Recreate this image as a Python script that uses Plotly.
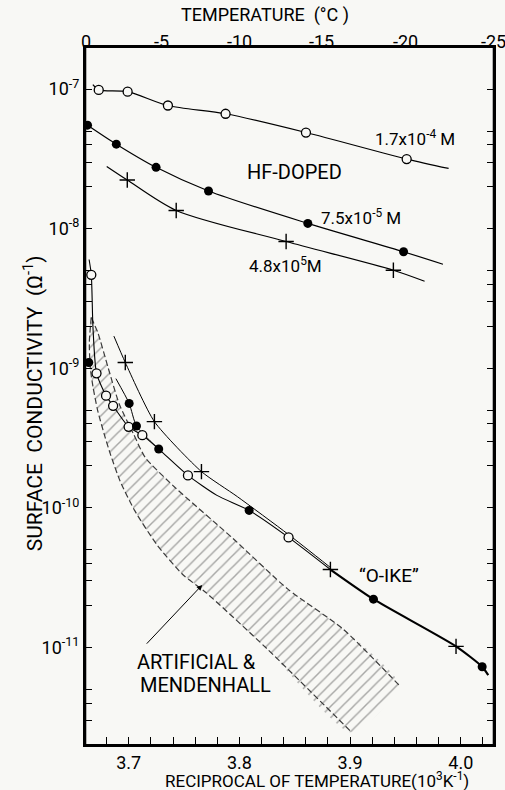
import numpy as np
import plotly.graph_objects as go

# ---------------------------------------------------------------
# Surface conductivity of ice vs reciprocal temperature
# x: 1/T in 10^3 K^-1, y: surface conductivity in ohm^-1
# ---------------------------------------------------------------

# HF-doped ice, 1.7x10^-4 M (open circles)
hf17_x = [3.6729, 3.6990, 3.7354, 3.7875, 3.8601, 3.9511]
hf17_y = [9.86e-8, 9.57e-8, 7.62e-8, 6.65e-8, 4.88e-8, 3.15e-8]
hf17_start = (3.6676, 1.074e-7)
hf17_end = (3.9890, 2.70e-8)

# HF-doped ice, 7.5x10^-5 M (filled circles)
hf75_x = [3.6628, 3.6888, 3.7247, 3.7721, 3.8618, 3.9483]
hf75_y = [5.51e-8, 4.03e-8, 2.75e-8, 1.86e-8, 1.09e-8, 6.83e-9]
hf75_end = (3.9839, 5.56e-9)

# HF-doped ice, 4.8x10^-5 M (crosses)
hf48_x = [3.6987, 3.7429, 3.8422, 3.9391]
hf48_y = [2.23e-8, 1.35e-8, 8.09e-9, 5.04e-9]
hf48_start = (3.6801, 2.79e-8)
hf48_end = (3.9673, 4.20e-9)

# Pure ice ("O-IKE") runs
pure_open_x = [3.6662, 3.6709, 3.6795, 3.6859, 3.6999, 3.7123, 3.7535, 3.8444]
pure_open_y = [4.67e-9, 9.2e-10, 6.37e-10, 5.38e-10, 3.81e-10, 3.32e-10, 1.71e-10, 6.15e-11]
pure_filled_x = [3.6639, 3.7004, 3.7070, 3.7271, 3.8088, 3.9211, 4.0193]
pure_filled_y = [1.10e-9, 5.60e-10, 3.86e-10, 2.64e-10, 9.6e-11, 2.22e-11, 7.29e-12]
pure_cross_x = [3.6969, 3.7232, 3.7657, 3.8822, 3.9957]
pure_cross_y = [1.10e-9, 4.15e-10, 1.82e-10, 3.62e-11, 1.02e-11]

# Hand-drawn curves through the pure-ice runs
curve_a_x = [3.6642, 3.6662, 3.6677, 3.6709, 3.6795, 3.6859, 3.6999, 3.7123,
             3.7271, 3.7535, 3.7797, 3.8088, 3.8444, 3.8822]
curve_a_y = [6.01e-9, 4.67e-9, 1.96e-9, 9.2e-10, 6.37e-10, 5.38e-10, 3.81e-10, 3.32e-10,
             2.64e-10, 1.71e-10, 1.23e-10, 9.6e-11, 6.15e-11, 3.62e-11]
curve_tail_x = [3.8822, 3.9211, 3.9957, 4.0193, 4.0248]
curve_tail_y = [3.62e-11, 2.22e-11, 1.02e-11, 7.29e-12, 6.35e-12]
curve_b_x = [3.6866, 3.6969, 3.7232, 3.7657, 3.7981, 3.8439, 3.8823]
curve_b_y = [1.70e-9, 1.10e-9, 4.15e-10, 1.82e-10, 1.205e-10, 6.49e-11, 3.74e-11]
curve_c_x = [3.6884, 3.7004, 3.7070, 3.7271]
curve_c_y = [8.43e-10, 5.60e-10, 3.86e-10, 2.64e-10]

# Band covering artificial ice and Mendenhall glacier ice
band_upper_x = [3.6661, 3.6721, 3.6814, 3.6916, 3.7046, 3.7150, 3.7423, 3.7942,
                3.8435, 3.8939, 3.9440]
band_upper_y = [2.31e-9, 1.80e-9, 1.01e-9, 5.50e-10, 3.35e-10, 2.29e-10, 1.39e-10,
                6.04e-11, 2.63e-11, 1.35e-11, 5.40e-12]
band_lower_x = [3.6661, 3.6644, 3.6653, 3.6678, 3.6719, 3.6787, 3.6838, 3.6923,
                3.7053, 3.7254, 3.7490, 3.7694, 3.8248, 3.9014]
band_lower_y = [2.31e-9, 1.53e-9, 1.0e-9, 7.31e-10, 5.00e-10, 3.20e-10, 2.38e-10,
                1.55e-10, 9.6e-11, 5.46e-11, 3.32e-11, 2.49e-11, 9.82e-12, 2.47e-12]
band_arrow_head = (3.7664, 2.81e-11)
band_arrow_tail = (3.7150, 1.04e-11)

# Axes
x_range = [3.6605, 4.030]
x_labelled = [3.7, 3.8, 3.9, 4.0]
x_tick_step = 0.02
y_decades = [-11, -10, -9, -8, -7]
y_minor_mantissas = [2, 3, 4, 5]
temps_c = [0, -5, -10, -15, -20, -25]
y_lo, y_hi = -11.698, -6.699

INK = "black"
BG = "#f8f8f5"
FONT = "Roboto"

fig = go.Figure()

# hatched band
fig.add_trace(go.Scatter(
    x=band_lower_x + band_upper_x[::-1], y=band_lower_y + band_upper_y[::-1],
    mode="lines", fill="toself", fillcolor="rgba(0,0,0,0)",
    fillpattern=dict(shape="/", fgcolor="#555555", bgcolor="rgba(0,0,0,0)",
                     size=8, solidity=0.18),
    line=dict(width=0, shape="spline", smoothing=0.6), hoverinfo="skip"))
for bx, by in [(band_upper_x, band_upper_y), (band_lower_x, band_lower_y)]:
    fig.add_trace(go.Scatter(x=bx, y=by, mode="lines",
                             line=dict(color="#3a3a3a", width=1.2, dash="6px,3px",
                                       shape="spline", smoothing=0.6),
                             hoverinfo="skip"))

thin = dict(color=INK, width=1.2, shape="spline", smoothing=0.8)

# fitted curves, HF-doped
fig.add_trace(go.Scatter(x=[hf17_start[0]] + hf17_x + [hf17_end[0]],
                         y=[hf17_start[1]] + hf17_y + [hf17_end[1]],
                         mode="lines", line=thin))
fig.add_trace(go.Scatter(x=hf75_x + [hf75_end[0]], y=hf75_y + [hf75_end[1]],
                         mode="lines", line=thin))
fig.add_trace(go.Scatter(x=[hf48_start[0]] + hf48_x + [hf48_end[0]],
                         y=[hf48_start[1]] + hf48_y + [hf48_end[1]],
                         mode="lines", line=thin))

# curves, pure ice
fig.add_trace(go.Scatter(x=curve_a_x, y=curve_a_y, mode="lines",
                         line=dict(color=INK, width=1.1, shape="spline", smoothing=0.6)))
fig.add_trace(go.Scatter(x=curve_b_x, y=curve_b_y, mode="lines",
                         line=dict(color=INK, width=1.0, shape="spline", smoothing=0.6)))
fig.add_trace(go.Scatter(x=curve_c_x, y=curve_c_y, mode="lines",
                         line=dict(color=INK, width=1.0, shape="spline", smoothing=0.6)))
fig.add_trace(go.Scatter(x=curve_tail_x, y=curve_tail_y, mode="lines",
                         line=dict(color=INK, width=2.2, shape="spline", smoothing=0.6)))

open_m = dict(symbol="circle", size=9, color=BG, line=dict(color=INK, width=1.3))
fill_m = dict(symbol="circle", size=9, color=INK, line=dict(color=INK, width=0))
cross_m = dict(symbol="cross-thin", size=11, line=dict(color=INK, width=1.4))

for xs, ys, m in [(hf17_x, hf17_y, open_m), (hf75_x, hf75_y, fill_m),
                  (hf48_x, hf48_y, cross_m), (pure_open_x, pure_open_y, open_m),
                  (pure_filled_x, pure_filled_y, fill_m),
                  (pure_cross_x, pure_cross_y, cross_m)]:
    fig.add_trace(go.Scatter(x=xs, y=ys, mode="markers", marker=m))

# left and right frame edges, drawn on the data scale
for xe in x_range:
    fig.add_trace(go.Scatter(x=[xe, xe], y=[10 ** y_lo, 10 ** y_hi], mode="lines",
                             line=dict(color=INK, width=2.4), cliponaxis=False,
                             hoverinfo="skip"))

# bottom ticks every 0.02, labelled at each tenth
n_x = int(round((x_range[1] - 3.66) / x_tick_step)) + 1
x_ticks = [round(3.66 + i * x_tick_step, 2) for i in range(n_x)]
x_ticktext = ["%.1f" % v if any(abs(v - l) < 1e-9 for l in x_labelled) else ""
              for v in x_ticks]

# left/right ticks: decades labelled, 2..5 in between unlabelled
y_ticks, y_ticktext = [], []
for d in range(-12, -6):
    if d in y_decades:
        y_ticks.append(10.0 ** d)
        y_ticktext.append("10<sup>%d</sup>" % d)
    for m in y_minor_mantissas:
        y_ticks.append(m * 10.0 ** d)
        y_ticktext.append("")

# decade grid lines
for d in y_decades:
    fig.add_shape(type="line", xref="paper", x0=0, x1=1, yref="y", y0=d, y1=d,
                  line=dict(color="#8a8a8a", width=1), layer="below")

# temperature scale along the top edge
temp_pos = [1000.0 / (273.15 + t) for t in temps_c]
for t, xp in zip(temps_c, temp_pos):
    fig.add_annotation(x=xp, y=1, xref="x", yref="paper", text=str(t),
                       showarrow=False, yanchor="bottom", yshift=-7,
                       font=dict(size=18, color=INK))

# inward tick marks (lengths in axis units: ~8 px vertical, ~7 px horizontal)
tick_line = dict(color=INK, width=1.3)
dy = 8.0 / 139.6
dx = 7.0 * (x_range[1] - x_range[0]) / 411.0
for v in x_ticks:
    if x_range[0] < v < x_range[1]:
        fig.add_shape(type="line", xref="x", yref="y", x0=v, x1=v,
                      y0=y_lo, y1=y_lo + dy, line=tick_line, layer="above")
for xp in temp_pos[1:-1]:
    fig.add_shape(type="line", xref="x", yref="y", x0=xp, x1=xp,
                  y0=y_hi, y1=y_hi - dy, line=tick_line, layer="above")
for v in y_ticks:
    lv = float(np.log10(v))
    if y_lo < lv < y_hi:
        fig.add_shape(type="line", xref="x", yref="y", x0=x_range[0],
                      x1=x_range[0] + dx, y0=lv, y1=lv, line=tick_line, layer="above")
        fig.add_shape(type="line", xref="x", yref="y", x0=x_range[1],
                      x1=x_range[1] - dx, y0=lv, y1=lv, line=tick_line, layer="above")
fig.add_shape(type="rect", xref="paper", yref="paper", x0=0, x1=1, y0=0, y1=1,
              line=dict(color=INK, width=2.2), fillcolor="rgba(0,0,0,0)", layer="above")

axis_line = dict(showline=True, linecolor=INK, linewidth=2, zeroline=False,
                 showgrid=False, ticks="inside", tickwidth=1.3, tickcolor=INK)

fig.update_layout(
    width=505, height=790,
    margin=dict(l=85, r=9, t=47, b=45),
    paper_bgcolor=BG, plot_bgcolor=BG,
    showlegend=False,
    font=dict(family=FONT, size=18, color=INK),
    xaxis=dict(range=x_range, tickmode="array", tickvals=x_ticks,
               ticktext=x_ticktext, ticklen=8, mirror=True, **axis_line),
    yaxis=dict(type="log", range=[y_lo, y_hi], tickmode="array",
               tickvals=y_ticks, ticktext=y_ticktext, ticklen=7, mirror="ticks",
               **axis_line),
)

def label(text, x, y, size=17):
    fig.add_annotation(text=text, x=x, y=y, xref="x", yref="y", showarrow=False,
                       xanchor="center", yanchor="middle",
                       font=dict(size=size, color=INK, family=FONT))

label("1.7x10<sup>-4</sup> M", 3.9583, -7.351)
label("HF-DOPED", 3.8496, -7.594, 20)
label("7.5x10<sup>-5</sup> M", 3.9097, -7.917)
label("4.8x10<sup>5</sup>M", 3.8415, -8.261)
label("\u201cO-IKE\u201d", 3.9349, -10.481, 19)
label("ARTIFICIAL &", 3.7616, -11.105, 20)
label("MENDENHALL", 3.7697, -11.269, 20)

fig.add_annotation(x=band_arrow_head[0], y=np.log10(band_arrow_head[1]),
                   ax=band_arrow_tail[0], ay=np.log10(band_arrow_tail[1]),
                   xref="x", yref="y", axref="x", ayref="y", text="",
                   showarrow=True, arrowhead=2, arrowsize=1.1, arrowwidth=1,
                   arrowcolor=INK)

# axis titles
fig.add_annotation(text="TEMPERATURE  (°C )", xref="paper", yref="paper",
                   x=0.4404, y=1.0458, xanchor="center", yanchor="middle",
                   showarrow=False, font=dict(size=18))
fig.add_annotation(text="RECIPROCAL OF TEMPERATURE(10<sup>3</sup>K<sup>-1</sup>)",
                   xref="paper", yref="paper", x=0.567, y=-0.0505,
                   xanchor="center", yanchor="middle",
                   showarrow=False, font=dict(size=17))
fig.add_annotation(text="SURFACE  CONDUCTIVITY  (\u03a9<sup>-1</sup>)",
                   xref="paper", yref="paper", x=-0.1265, y=0.49, textangle=-90,
                   xanchor="center", yanchor="middle",
                   showarrow=False, font=dict(size=21))

fig.write_html("out.html")
